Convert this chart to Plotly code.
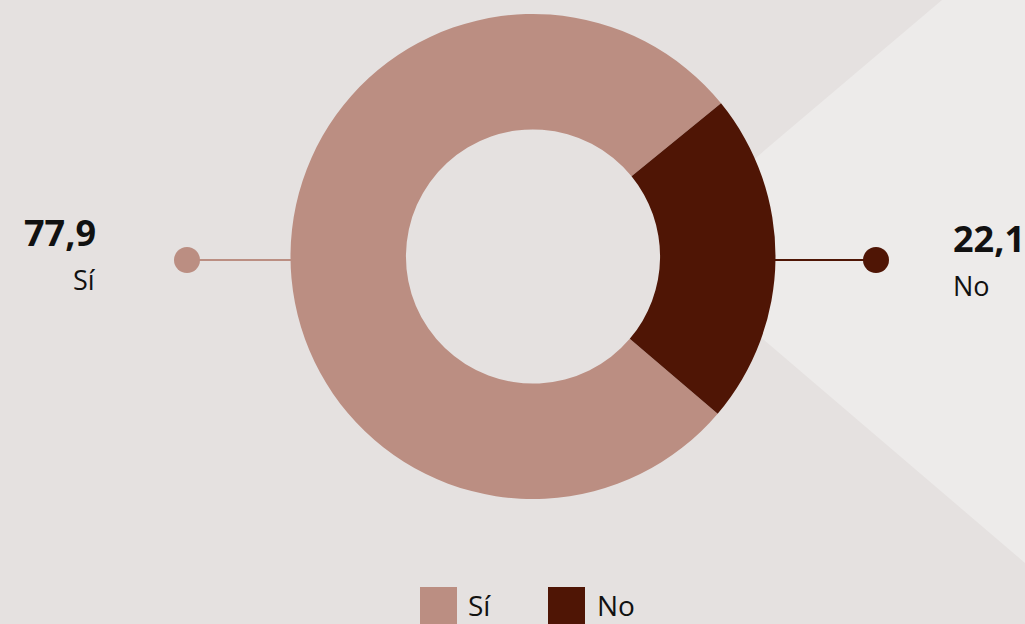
import plotly.graph_objects as go

categories = ["Sí", "No"]
values = [77.9, 22.1]
value_labels = ["77,9", "22,1"]
colors = ["#bb8e82", "#4f1505"]

W, H = 1025, 624
BG = "#e5e1e0"
LIGHT = "#edebea"
FONT = "Open Sans"
TXT = "#111111"

cx, cy, r_out = 533.0, 256.5, 242.5
hole = 0.524

fig = go.Figure()

# overlay pixel axes for decorations
fig.add_trace(go.Scatter(x=[0, W], y=[0, H], mode="markers",
                         marker=dict(opacity=0), hoverinfo="skip", showlegend=False))

fig.add_trace(go.Pie(
    labels=categories, values=values, hole=hole, sort=False,
    direction="clockwise", rotation=130.4,
    marker=dict(colors=colors, line=dict(width=0)),
    textinfo="none", hoverinfo="label+value", showlegend=False,
    domain=dict(x=[(cx - r_out) / W, (cx + r_out) / W],
                y=[1 - (cy + r_out) / H, 1 - (cy - r_out) / H]),
))

shapes = []
# light background wedge
shapes.append(dict(type="path", xref="x", yref="y", layer="below",
                   path="M 653 245 L 942 0 L 1025 0 L 1025 563 Z",
                   fillcolor=LIGHT, line=dict(width=0)))
# keep donut hole in the base background colour
r_in = hole * r_out
shapes.append(dict(type="circle", xref="x", yref="y", layer="below",
                   x0=cx - r_in - 2, x1=cx + r_in + 2, y0=cy - r_in - 2, y1=cy + r_in + 2,
                   fillcolor=BG, line=dict(width=0)))

annotations = []
line_y = 260
dot_r = 13
# (side, dot x, text x, anchor, value-bottom y, label-top y)
sides = [(-1, 187, 98, "right", 259, 259), (1, 876, 951, "left", 265, 265)]
for i, (side, dot_x, tx, anchor, vy, ly) in enumerate(sides):
    x_edge = cx + side * (r_out - 1)
    shapes.append(dict(type="line", xref="x", yref="y", x0=x_edge, x1=dot_x,
                       y0=line_y, y1=line_y, line=dict(color=colors[i], width=2)))
    shapes.append(dict(type="circle", xref="x", yref="y",
                       x0=dot_x - dot_r, x1=dot_x + dot_r,
                       y0=line_y - dot_r, y1=line_y + dot_r,
                       fillcolor=colors[i], line=dict(width=0)))
    annotations.append(dict(x=tx, y=vy, xref="x", yref="y", xanchor=anchor, yanchor="bottom",
                            text="<b>" + value_labels[i] + "</b>", showarrow=False,
                            font=dict(family=FONT, size=36, color=TXT)))
    annotations.append(dict(x=tx, y=ly, xref="x", yref="y", xanchor=anchor, yanchor="top",
                            text=categories[i], showarrow=False,
                            font=dict(family=FONT, size=27, color=TXT)))

# manual legend
leg = [(420, 466), (548, 595)]
for i, (sx, tx) in enumerate(leg):
    shapes.append(dict(type="rect", xref="x", yref="y", x0=sx, x1=sx + 37, y0=587, y1=624,
                       fillcolor=colors[i], line=dict(width=0)))
    annotations.append(dict(x=tx, y=605, xref="x", yref="y", xanchor="left", yanchor="middle",
                            text=categories[i], showarrow=False,
                            font=dict(family=FONT, size=28, color=TXT)))

fig.update_layout(
    width=W, height=H, margin=dict(l=0, r=0, t=0, b=0),
    paper_bgcolor=BG, plot_bgcolor=BG, showlegend=False,
    xaxis=dict(range=[0, W], visible=False, fixedrange=True, domain=[0, 1]),
    yaxis=dict(range=[H, 0], visible=False, fixedrange=True, domain=[0, 1]),
    shapes=shapes, annotations=annotations,
)

fig.write_html("out.html", config=dict(displayModeBar=False),
               post_script="document.body.style.margin='0';document.body.style.overflow='hidden';")
